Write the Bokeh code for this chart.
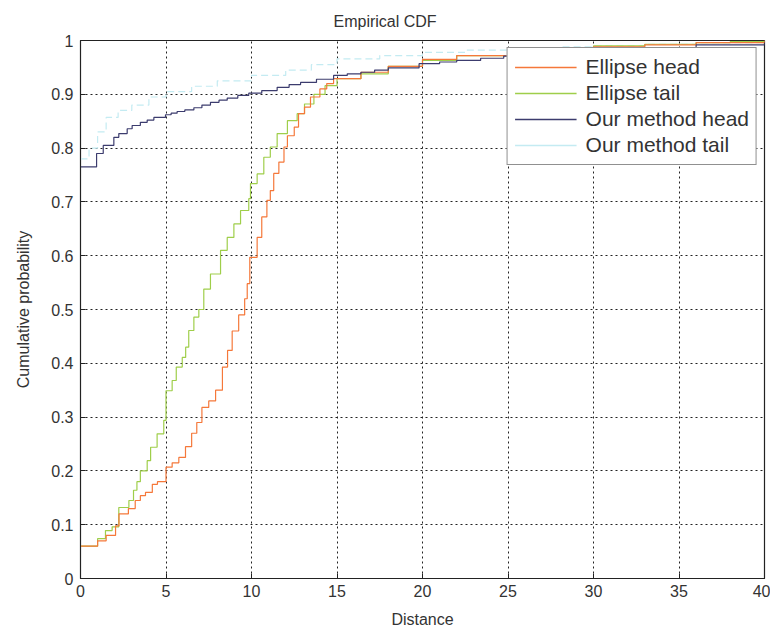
from bokeh.plotting import figure
from bokeh.models import Legend, LegendItem, Range1d, FixedTicker
from bokeh.embed import file_html
from bokeh.resources import INLINE

# ---- data ----
ellipse_head_x = [0, 1.0, 1.5, 2.05, 2.25, 2.8, 3.2, 3.5, 3.8, 4.2, 4.5, 5.0, 5.36, 5.75, 6.14, 6.5, 6.8,
                  7.1, 7.5, 7.9, 8.3, 8.6, 8.87, 9.25, 9.6, 9.75, 9.9, 10.33, 10.6, 10.9, 11.1, 11.3, 11.6,
                  11.9, 12.1, 12.5, 12.75, 13.1, 13.45, 14.0, 14.4, 14.8, 16.4, 18, 20, 22, 25, 28, 30, 33, 36, 40]
ellipse_head_y = [0.06, 0.07, 0.08, 0.098, 0.12, 0.13, 0.145, 0.154, 0.16, 0.175, 0.18, 0.207, 0.215, 0.225,
                  0.245, 0.27, 0.29, 0.318, 0.33, 0.35, 0.393, 0.424, 0.46, 0.49, 0.52, 0.548, 0.597, 0.634,
                  0.672, 0.703, 0.721, 0.753, 0.774, 0.802, 0.823, 0.839, 0.864, 0.876, 0.895, 0.91, 0.92,
                  0.929, 0.941, 0.952, 0.965, 0.972, 0.981, 0.985, 0.988, 0.992, 0.996, 1.0]

ellipse_tail_x = [0, 1.0, 1.46, 1.85, 2.24, 2.83, 3.1, 3.3, 3.5, 3.9, 4.1, 4.48, 4.87, 5.0, 5.36, 5.6, 5.95,
                  6.15, 6.33, 6.63, 6.92, 7.21, 7.6, 8.19, 8.58, 8.97, 9.36, 9.84, 9.94, 10.33, 10.72, 11.1,
                  11.5, 12.1, 12.67, 13.1, 13.65, 14.3, 15.0, 16.4, 18, 20, 22, 25, 28, 30, 33, 36, 38, 40]
ellipse_tail_y = [0.06, 0.074, 0.089, 0.096, 0.132, 0.145, 0.164, 0.18, 0.2, 0.219, 0.244, 0.269, 0.294,
                  0.349, 0.368, 0.393, 0.411, 0.43, 0.461, 0.486, 0.5, 0.538, 0.566, 0.61, 0.634, 0.659,
                  0.684, 0.706, 0.734, 0.752, 0.783, 0.802, 0.827, 0.851, 0.864, 0.882, 0.9, 0.916, 0.929,
                  0.938, 0.952, 0.963, 0.972, 0.98, 0.986, 0.99, 0.993, 0.996, 0.998, 1.0]

method_head_x = [0, 0.94, 1.33, 1.95, 2.24, 2.73, 3.02, 3.5, 3.9, 4.29, 4.97, 5.3, 5.65, 6.1, 6.63, 7.1, 7.6,
                 8.1, 8.58, 9.2, 9.84, 10.6, 11.5, 12.2, 12.87, 13.8, 14.8, 15.6, 16.4, 17.2, 18, 19.8,
                 21, 22, 23.4, 24.75, 27, 30, 33, 36, 40]
method_head_y = [0.765, 0.79, 0.805, 0.82, 0.827, 0.836, 0.842, 0.848, 0.852, 0.857, 0.862, 0.865, 0.868,
                 0.871, 0.875, 0.88, 0.885, 0.889, 0.893, 0.898, 0.902, 0.907, 0.913, 0.918, 0.922, 0.928,
                 0.935, 0.938, 0.941, 0.945, 0.949, 0.957, 0.96, 0.963, 0.967, 0.971, 0.976, 0.982, 0.987,
                 0.992, 0.996]

method_tail_x = [0, 0.5, 1.0, 1.5, 2.2, 3, 4, 5, 6.5, 8, 10, 12, 13.5, 15, 17.5, 20, 22.5, 25, 28, 30, 33, 36, 40]
method_tail_y = [0.78, 0.8, 0.83, 0.857, 0.87, 0.88, 0.895, 0.905, 0.915, 0.925, 0.935, 0.945, 0.955,
                 0.966, 0.972, 0.978, 0.982, 0.985, 0.988, 0.99, 0.993, 0.996, 1.0]

series_labels = ["Ellipse head", "Ellipse tail", "Our method head", "Our method tail"]
series_colors = ["#f5783a", "#9fce4a", "#3c3c6e", "#c4ebf2"]
x_ticks = [0, 5, 10, 15, 20, 25, 30, 35, 40]
y_ticks = [0, 0.1, 0.2, 0.3, 0.4, 0.5, 0.6, 0.7, 0.8, 0.9, 1.0]

FONT = "Liberation Sans"

p = figure(width=770, height=628, output_backend="svg", toolbar_location=None,
           x_range=Range1d(0, 40), y_range=Range1d(0, 1),
           min_border_left=80, min_border_right=6, min_border_top=40, min_border_bottom=50,
           title="Empirical CDF")
p.frame_width = 684
p.frame_height = 538

p.title.align = "left"
p.title.text_font = FONT
p.title.text_font_size = "16px"
p.title.text_font_style = "normal"
p.title.text_color = "#333333"
p.title.offset = 253
p.title.standoff = 21

p.background_fill_color = "white"
p.outline_line_color = "#222222"
p.outline_line_width = 1.2

for ax in (p.xaxis[0], p.yaxis[0]):
    ax.major_label_text_font = FONT
    ax.major_label_text_font_size = "16px"
    ax.major_label_text_color = "#333333"
    ax.axis_label_text_font = FONT
    ax.axis_label_text_font_size = "16px"
    ax.axis_label_text_font_style = "normal"
    ax.axis_label_text_color = "#333333"
    ax.major_tick_in = 5
    ax.major_tick_out = 0
    ax.minor_tick_line_color = None
    ax.axis_line_color = "#222222"
    ax.major_tick_line_color = "#222222"

p.xaxis[0].ticker = FixedTicker(ticks=x_ticks)
p.yaxis[0].ticker = FixedTicker(ticks=y_ticks)
p.yaxis[0].major_label_overrides = {0: "0", 1.0: "1"}
p.xaxis[0].axis_label = "Distance"
p.yaxis[0].axis_label = "Cumulative probability"
p.xaxis[0].major_label_standoff = 6
p.xaxis[0].axis_label_standoff = 11
p.yaxis[0].major_label_standoff = 7
p.yaxis[0].axis_label_standoff = 16

p.xgrid.ticker = FixedTicker(ticks=x_ticks)
p.ygrid.ticker = FixedTicker(ticks=y_ticks)
for g in (p.xgrid[0], p.ygrid[0]):
    g.grid_line_color = "#222222"
    g.grid_line_dash = "2 3"
    g.grid_line_width = 1

r4 = p.step(method_tail_x, method_tail_y, mode="after", line_color=series_colors[3], line_width=1.2,
            line_dash="7 4")
r2 = p.step(ellipse_tail_x, ellipse_tail_y, mode="after", line_color=series_colors[1], line_width=1.2)
r1 = p.step(ellipse_head_x, ellipse_head_y, mode="after", line_color=series_colors[0], line_width=1.2)
r3 = p.step(method_head_x, method_head_y, mode="after", line_color=series_colors[2], line_width=1.2)

# legend proxies: hidden line renderers carrying each series' colour
series_xy = [(ellipse_head_x, ellipse_head_y), (ellipse_tail_x, ellipse_tail_y),
             (method_head_x, method_head_y), (method_tail_x, method_tail_y)]
proxies = []
for (sx, sy), c in zip(series_xy, series_colors):
    pr = p.line(x=sx, y=sy, line_color=c, line_width=1.4)
    pr.visible = False
    proxies.append(pr)

legend = Legend(items=[LegendItem(label=lab, renderers=[pr]) for lab, pr in zip(series_labels, proxies)],
                location="top_right")
legend.label_text_font = FONT
legend.label_text_font_size = "21px"
legend.label_text_color = "#333333"
legend.glyph_width = 62
legend.glyph_height = 22
legend.label_height = 22
legend.label_standoff = 9
legend.spacing = 2
legend.padding = 7
legend.margin = 7
legend.border_line_color = "#222222"
legend.border_line_width = 1
legend.background_fill_alpha = 1
legend.inactive_fill_alpha = 0
p.add_layout(legend)

open("out.html", "w").write(file_html(p, INLINE))
